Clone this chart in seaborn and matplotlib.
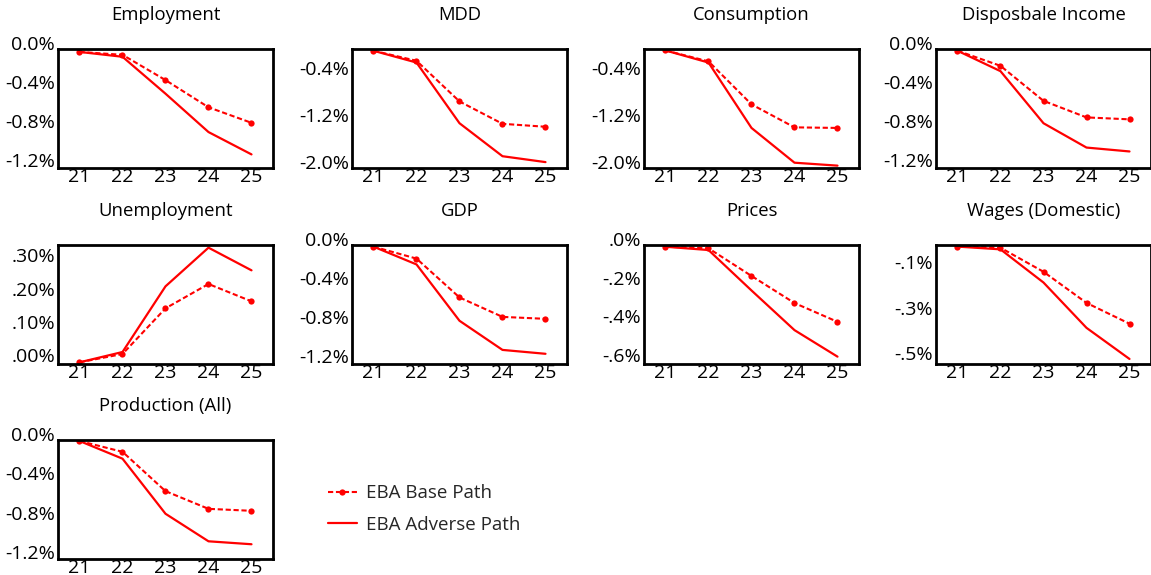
import matplotlib
matplotlib.use("Agg")
import matplotlib.pyplot as plt
import matplotlib.transforms as mtransforms
import seaborn as sns

# Years on the x axis (20xx)
years = [21, 22, 23, 24, 25]

titles = ["Employment", "MDD", "Consumption", "Disposbale Income",
          "Unemployment", "GDP", "Prices", "Wages (Domestic)", "Production (All)"]

# Deviation from baseline, in percent
employment_base = [-0.03, -0.06, -0.32, -0.60, -0.76]
employment_adverse = [-0.03, -0.08, -0.46, -0.855, -1.085]
mdd_base = [-0.01, -0.18, -0.87, -1.25, -1.30]
mdd_adverse = [-0.01, -0.21, -1.24, -1.80, -1.90]
consumption_base = [-0.005, -0.19, -0.92, -1.31, -1.32]
consumption_adverse = [-0.005, -0.21, -1.32, -1.91, -1.96]
income_base = [-0.015, -0.17, -0.53, -0.70, -0.72]
income_adverse = [-0.015, -0.225, -0.76, -1.01, -1.05]
unemployment_base = [-0.003, 0.022, 0.159, 0.232, 0.18]
unemployment_adverse = [-0.003, 0.028, 0.225, 0.341, 0.273]
gdp_base = [-0.017, -0.14, -0.54, -0.74, -0.76]
gdp_adverse = [-0.017, -0.20, -0.78, -1.08, -1.12]
prices_base = [-0.009, -0.017, -0.16, -0.30, -0.397]
prices_adverse = [-0.009, -0.026, -0.235, -0.44, -0.577]
wages_base = [-0.007, -0.012, -0.117, -0.253, -0.344]
wages_adverse = [-0.007, -0.019, -0.164, -0.362, -0.498]
production_base = [-0.01, -0.12, -0.52, -0.70, -0.72]
production_adverse = [-0.01, -0.19, -0.75, -1.03, -1.06]

base_series = [employment_base, mdd_base, consumption_base, income_base,
               unemployment_base, gdp_base, prices_base, wages_base, production_base]
adverse_series = [employment_adverse, mdd_adverse, consumption_adverse, income_adverse,
                  unemployment_adverse, gdp_adverse, prices_adverse, wages_adverse,
                  production_adverse]

# Y-axis ticks and their labels for each panel
pct_ticks = [0.0, -0.4, -0.8, -1.2]
pct_labels = ["0.0%", "-0.4%", "-0.8%", "-1.2%"]
wide_ticks = [-0.4, -1.2, -2.0]
wide_labels = ["-0.4%", "-1.2%", "-2.0%"]
unemp_ticks = [0.0, 0.1, 0.2, 0.3]
unemp_labels = [".00%", ".10%", ".20%", ".30%"]
price_ticks = [0.0, -0.2, -0.4, -0.6]
price_labels = [".0%", "-.2%", "-.4%", "-.6%"]
wage_ticks = [-0.1, -0.3, -0.5]
wage_labels = ["-.1%", "-.3%", "-.5%"]

yticks = [pct_ticks, wide_ticks, wide_ticks, pct_ticks, unemp_ticks,
          pct_ticks, price_ticks, wage_ticks, pct_ticks]
ylabels = [pct_labels, wide_labels, wide_labels, pct_labels, unemp_labels,
           pct_labels, price_labels, wage_labels, pct_labels]
ylims = [(-1.225, 0.0), (-2.0, 0.02), (-2.0, 0.02), (-1.22, 0.003), (-0.008, 0.349),
         (-1.225, 0.0), (-0.615, 0.0), (-0.52, 0.0), (-1.21, 0.0)]

sns.set_style("white")
plt.rcParams["font.family"] = ["Open Sans", "DejaVu Sans"]

W, H = 1151, 575
fig = plt.figure(figsize=(W / 100, H / 100), dpi=100)

col_left = [58, 352, 644, 936]
row_top = [49, 245, 440]
ax_w, ax_h = 215, 119

red = "#FF0000"
label_shift = mtransforms.ScaledTranslation(0, 0.06, fig.dpi_scale_trans)

axes = []
for i, title in enumerate(titles):
    r, c = divmod(i, 4)
    left = col_left[c]
    top = row_top[r]
    ax = fig.add_axes([left / W, 1 - (top + ax_h) / H, ax_w / W, ax_h / H])
    axes.append(ax)

    sns.lineplot(x=years, y=base_series[i], ax=ax, color=red, lw=1.5,
                 dashes=(2.5, 1.3), marker="o", markersize=4.5,
                 markeredgewidth=0, label="EBA Base Path", legend=False)
    sns.lineplot(x=years, y=adverse_series[i], ax=ax, color=red, lw=1.6,
                 label="EBA Adverse Path", legend=False)

    ax.set_xlim(20.5, 25.5)
    ax.set_ylim(*ylims[i])
    ax.set_xticks(years)
    ax.set_xticklabels([str(y) for y in years])
    ax.set_yticks(yticks[i])
    ax.set_yticklabels(ylabels[i])
    ax.tick_params(axis="both", length=0, labelsize=14, colors="black")
    ax.tick_params(axis="x", pad=0)
    ax.tick_params(axis="y", pad=2)
    for tick in ax.yaxis.get_major_ticks():
        tick.label1.set_transform(tick.label1.get_transform() + label_shift)
    ax.set_xlabel("")
    ax.set_ylabel("")
    ax.set_title(title, fontsize=13.3, pad=21, color="black")
    for sp in ax.spines.values():
        sp.set_visible(True)
        sp.set_color("black")
        sp.set_linewidth(2)

handles = axes[0].get_lines()[:2]
fig.legend(handles, ["EBA Base Path", "EBA Adverse Path"], loc="center left",
           bbox_to_anchor=(319 / W, 1 - 509 / H), frameon=False, fontsize=13.5,
           handlelength=1.5, handletextpad=0.5, borderpad=0, labelspacing=0.7)

fig.savefig("out.png", dpi=100)
